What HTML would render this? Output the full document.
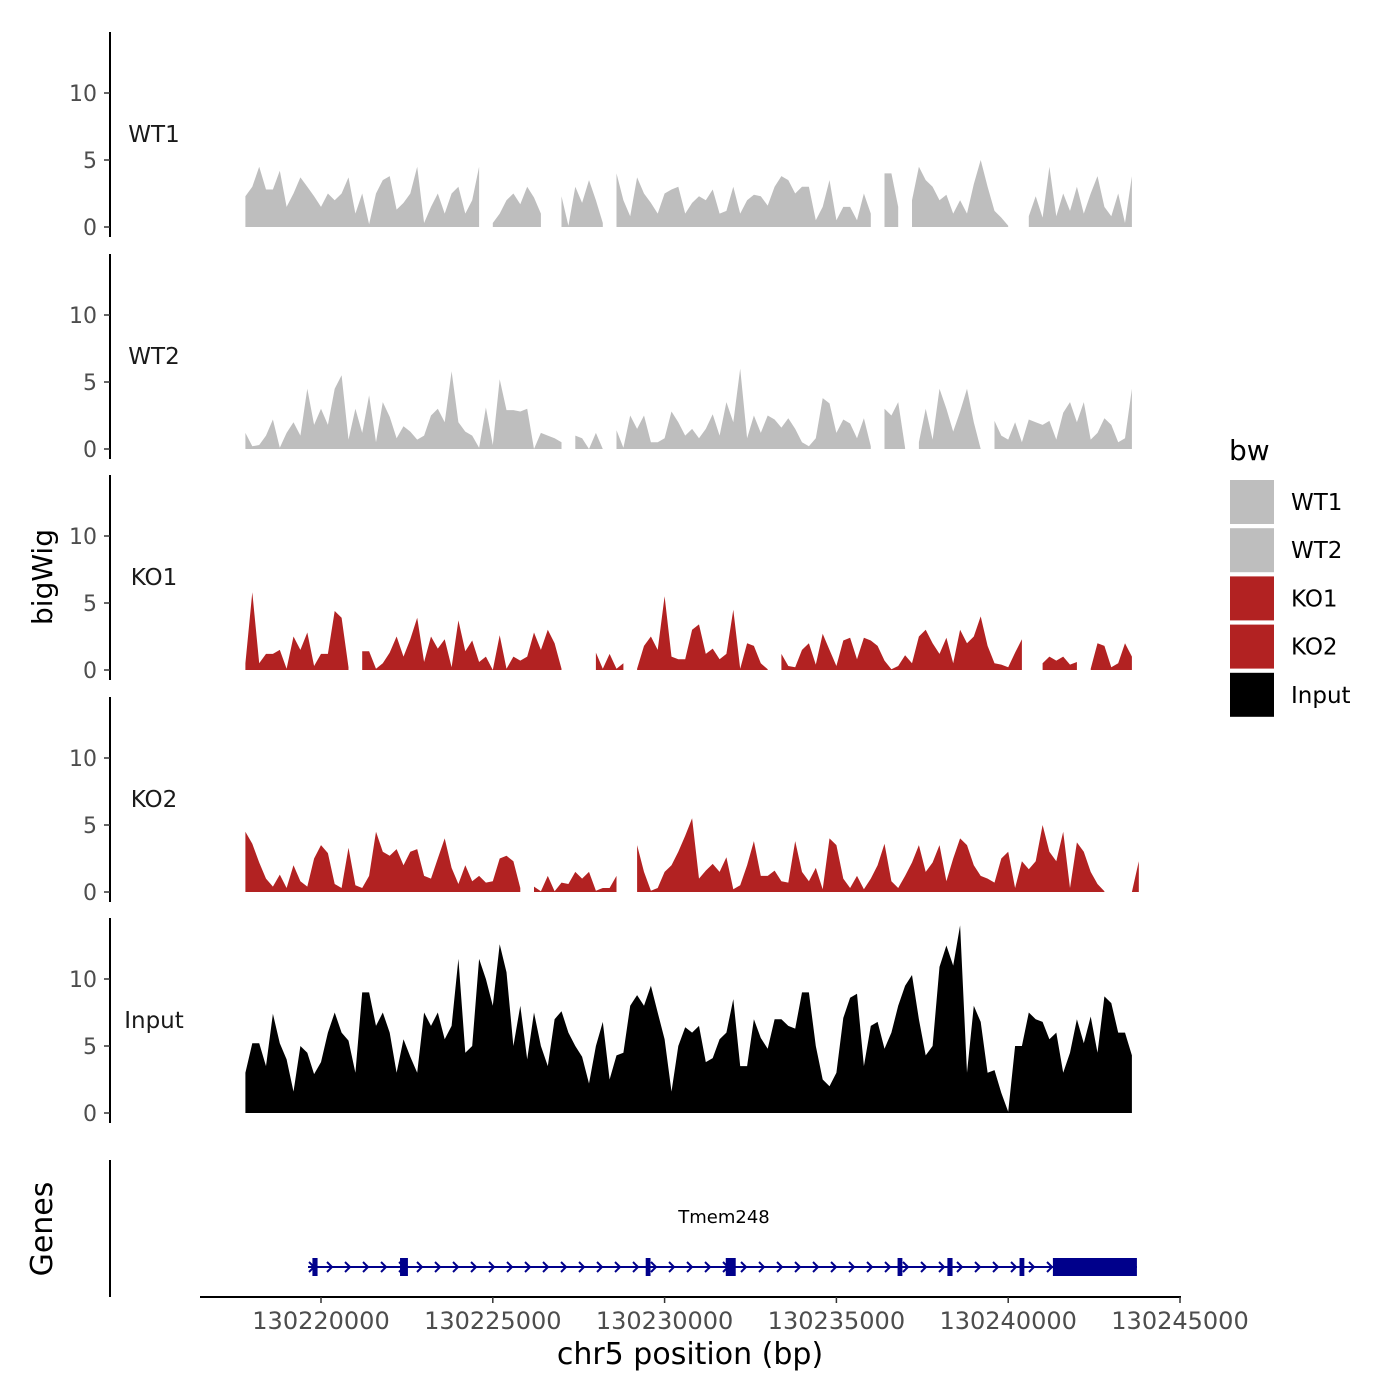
<!DOCTYPE html>
<html><head><meta charset="utf-8"><style>
html,body{margin:0;padding:0;background:#fff;}
svg{display:block;font-family:"DejaVu Sans","Liberation Sans",sans-serif;}
</style></head><body>
<svg id="chart" width="1400" height="1400" viewBox="0 0 1400 1400" xmlns="http://www.w3.org/2000/svg">
<g id="tracks"></g>
<g id="genes"></g>
<g id="xaxis"></g>
<text x="0" y="0" transform="translate(52,577) rotate(-90)" text-anchor="middle" font-size="28" fill="#000">bigWig</text>
<text x="0" y="0" transform="translate(52,1229) rotate(-90)" text-anchor="middle" font-size="30" fill="#000">Genes</text>
<text x="690" y="1364" text-anchor="middle" font-size="30" fill="#000">chr5 position (bp)</text>
<g id="legend"></g>
</svg>
<script>
const NS="http://www.w3.org/2000/svg";
const binStart=130217800;
const binWidth=200;
const trackNames=["WT1","WT2","KO1","KO2","Input"];
const trackColors=["#bebebe","#bebebe","#b22222","#b22222","#000000"];
const wt1=[2.3,3.0,4.5,2.8,2.8,4.2,1.5,2.5,3.7,3.0,2.3,1.5,2.5,2.0,2.5,3.7,1.0,2.5,0.2,2.5,3.5,3.8,1.3,1.8,2.5,4.5,0.3,1.5,2.5,1.0,2.5,3.0,1.0,2.0,4.5,null,0.3,1.0,2.0,2.5,1.7,3.0,2.2,1.0,null,null,2.3,0.1,3.0,1.8,3.5,2.0,0.3,null,4.0,2.0,0.8,3.7,2.5,1.8,1.0,2.5,2.8,3.0,1.0,1.8,2.3,2.0,2.8,1.0,1.2,3.0,1.0,2.0,2.4,2.3,1.6,3.0,3.8,3.5,2.5,3.0,3.0,0.5,1.5,3.5,0.5,1.5,1.5,0.5,2.5,1.0,null,4.0,4.0,1.5,null,2.0,4.5,3.5,3.0,2.0,2.4,1.0,2.0,1.0,3.2,5.0,3.0,1.2,0.7,0.1,null,null,0.8,2.3,0.7,4.5,0.8,2.5,1.2,3.0,1.0,2.5,3.8,1.5,0.8,2.5,0.3,3.8,null];
const wt2=[1.2,0.2,0.3,1.0,2.2,0.1,1.2,2.0,1.0,4.5,1.8,3.0,1.8,4.5,5.5,0.7,3.0,1.2,4.0,0.5,3.5,2.4,0.8,1.7,1.3,0.7,1.0,2.5,3.0,2.0,5.8,2.0,1.3,1.0,0.1,3.1,0.3,5.2,2.9,2.9,2.8,3.0,0.0,1.2,1.0,0.8,0.5,null,1.0,0.8,0.0,1.2,0.0,null,1.4,0.1,2.5,1.5,2.5,0.5,0.5,0.8,2.8,2.0,1.0,1.5,0.8,1.5,2.6,1.0,3.5,2.0,6.0,0.8,2.5,1.2,2.5,2.2,1.6,2.3,1.5,0.5,0.2,0.8,3.8,3.4,1.2,2.2,1.9,0.8,2.3,0.2,null,3.0,2.5,3.5,0.1,null,0.5,3.0,0.7,4.5,3.0,1.3,2.8,4.5,2.0,0.0,null,2.1,1.0,0.7,2.0,0.5,2.2,2.0,1.8,2.1,0.7,2.7,3.5,2.0,3.5,0.7,1.2,2.3,1.8,0.5,0.8,4.5,null];
const ko1=[0.5,5.8,0.5,1.2,1.2,1.5,0.1,2.5,1.5,2.8,0.3,1.2,1.2,4.4,3.9,0.2,null,1.4,1.4,0.1,0.5,1.3,2.5,1.0,2.3,3.9,0.6,2.5,1.6,2.3,0.2,3.7,1.4,2.2,0.6,1.0,0.0,2.6,0.1,1.0,0.7,1.0,2.8,1.5,3.0,2.0,0.1,null,1.2,null,null,1.3,0.1,1.2,0.1,0.5,null,0.1,1.8,2.5,1.5,5.5,1.0,0.8,0.8,3.0,3.4,1.2,1.6,0.8,1.2,4.5,0.1,2.0,1.8,0.5,0.05,null,1.2,0.3,0.2,1.5,2.0,0.4,2.7,1.5,0.3,2.2,2.4,0.8,2.4,2.2,1.8,0.7,0.05,0.3,1.1,0.5,2.5,3.0,2.0,1.2,2.4,0.5,3.0,2.0,2.5,4.0,1.8,0.5,0.4,0.2,1.3,2.3,null,null,0.5,1.0,0.7,1.0,0.4,0.6,null,0.1,2.0,1.8,0.2,0.5,2.0,1.0,null];
const ko2=[4.5,3.6,2.2,1.0,0.4,1.3,0.3,2.0,0.8,0.4,2.5,3.5,2.9,0.6,0.3,3.3,0.5,0.3,1.2,4.5,3.0,2.7,3.2,2.0,3.0,3.2,1.2,1.0,2.5,4.0,1.8,0.6,2.0,0.8,1.2,0.7,0.8,2.5,2.7,2.3,0.3,null,0.4,0.05,1.2,0.05,0.7,0.6,1.5,1.0,1.5,0.1,0.3,0.3,1.2,null,null,3.5,1.5,0.1,0.3,1.5,2.0,3.0,4.2,5.5,1.0,1.6,2.1,1.5,2.6,0.2,0.5,2.0,3.8,1.2,1.2,1.6,0.8,0.7,3.8,1.5,0.8,1.8,0.2,4.0,3.5,1.0,0.3,1.2,0.2,1.0,2.0,3.6,0.8,0.3,1.2,2.2,3.5,1.5,2.2,3.5,0.8,2.5,4.0,3.5,2.0,1.2,1.0,0.7,2.5,3.0,0.3,2.3,1.7,2.3,5.0,3.0,2.3,4.5,0.3,3.7,3.0,1.5,0.6,0.05,null,null,null,0.0,2.3,null];
const input=[3.0,5.2,5.2,3.5,7.4,5.2,4.0,1.6,5.0,4.5,2.9,3.8,6.0,7.5,6.0,5.4,3.0,9.0,9.0,6.5,7.5,6.0,3.0,5.5,4.2,3.0,7.5,6.5,7.5,5.5,6.5,11.5,4.5,5.0,11.5,10.0,8.0,12.6,10.5,5.0,8.0,4.0,7.5,5.0,3.5,7.0,7.6,6.0,5.0,4.2,2.2,5.0,6.8,2.5,4.3,4.5,8.0,8.8,8.0,9.5,7.5,5.5,1.6,5.0,6.4,6.0,6.5,3.8,4.1,5.5,6.0,8.5,3.5,3.5,7.0,5.6,4.8,7.0,7.0,6.5,6.3,9.0,9.0,5.0,2.5,2.0,3.0,7.1,8.6,8.9,3.5,6.5,6.8,4.8,6.0,8.0,9.5,10.3,7.0,4.3,5.0,10.9,12.5,11.0,14.0,3.0,8.0,6.8,3.0,3.2,1.5,0.1,5.0,5.0,7.5,7.0,6.8,5.5,6.0,3.0,4.5,7.0,5.2,7.2,4.5,8.7,8.2,6.0,6.0,4.3,null];
const seriesValues=[wt1,wt2,ko1,ko2,input];
const yTicks=[0,5,10];
const xTicks=[130220000,130225000,130230000,130235000,130240000,130245000];
const geneName="Tmem248";
const geneStart=130219622, geneEnd=130243746;
const exonStarts=[130219750,130222300,130229450,130231780,130236780,130238230,130240330,130241301];
const exonEnds=[130219900,130222530,130229590,130232070,130236920,130238380,130240470,130243746];

function xScale(bp){return 321+(bp-130220000)/5000*171.8;}
const zeroY=[227,449,670,892,1113];
function yScale(panel,v){return zeroY[panel]-v*13.4;}
function mk(tag,attrs,parent){const e=document.createElementNS(NS,tag);for(const k in attrs)e.setAttribute(k,attrs[k]);parent.appendChild(e);return e;}

const tracks=document.getElementById('tracks');
seriesValues.forEach((vals,p)=>{
  const g=mk('g',{},tracks);
  
  
  let seg=[];
  const flush=()=>{
    if(seg.length){
      let d='M'+xScale(binStart+seg[0][0]*binWidth).toFixed(1)+','+yScale(p,0);
      seg.forEach(([i,v])=>{d+=' L'+xScale(binStart+i*binWidth).toFixed(1)+','+yScale(p,v).toFixed(1);});
      d+=' L'+xScale(binStart+seg[seg.length-1][0]*binWidth).toFixed(1)+','+yScale(p,0)+' Z';
      const a=mk('path',{d:d,fill:trackColors[p]},g);
      
      
    }
    seg=[];
  };
  vals.forEach((v,i)=>{if(v===null)flush();else seg.push([i,v]);});
  flush();
  const top=yScale(p,14.55), bot=yScale(p,0)+10;
  const ax=mk('line',{x1:110,x2:110,y1:top,y2:bot,stroke:'#000','stroke-width':2},g);
  
  
  yTicks.forEach(t=>{
    const y=yScale(p,t);
    const tk=mk('line',{x1:104,x2:110,y1:y,y2:y,stroke:'#333','stroke-width':1.5},g);
    
    
    const tl=mk('text',{x:97,y:y+8,'text-anchor':'end','font-size':22,fill:'#4d4d4d'},g);
    
    
    tl.textContent=t;
  });
  const lb=mk('text',{x:154,y:yScale(p,0)-85,'text-anchor':'middle','font-size':23,fill:'#1a1a1a'},g);
  
  
  lb.textContent=trackNames[p];
});

const gg=document.getElementById('genes');
const gax=mk('line',{x1:110,x2:110,y1:1160,y2:1297,stroke:'#000','stroke-width':2},gg);


const gl=mk('line',{x1:xScale(geneStart),x2:xScale(geneEnd),y1:1267,y2:1267,stroke:'#00008b','stroke-width':2},gg);


for(let x=xScale(geneStart)+4;x<xScale(geneEnd)-4;x+=18){
  const ar=mk('path',{d:`M${x-3},${1262} L${x+2},1267 L${x-3},1272`,fill:'none',stroke:'#00008b','stroke-width':2},gg);
  
  
}
exonStarts.forEach((s,i)=>{
  const x1=xScale(s),x2=xScale(exonEnds[i]);
  const r=mk('rect',{x:x1,y:1258,width:Math.max(x2-x1,4),height:18,fill:'#00008b'},gg);
  
  
});
const gn=mk('text',{x:724,y:1223,'text-anchor':'middle','font-size':18,fill:'#000'},gg);


gn.textContent=geneName;

const xa=document.getElementById('xaxis');
const xl=mk('line',{x1:200,x2:1181,y1:1297,y2:1297,stroke:'#000','stroke-width':2},xa);


xTicks.forEach(t=>{
  const x=xScale(t);
  const tk=mk('line',{x1:x,x2:x,y1:1297,y2:1303,stroke:'#333','stroke-width':1.5},xa);
  
  
  const tl=mk('text',{x:x,y:1329,'text-anchor':'middle','font-size':24,fill:'#4d4d4d'},xa);
  
  
  tl.textContent=t;
});

const lg=document.getElementById('legend');
const lt=mk('text',{x:1229,y:460,'font-size':28,fill:'#000'},lg);


lt.textContent='bw';
trackNames.forEach((n,i)=>{
  const y=480+i*48.2;
  const r=mk('rect',{x:1230,y:y,width:44,height:44,fill:trackColors[i]},lg);
  
  
  const t=mk('text',{x:1291,y:y+30,'font-size':23,fill:'#000'},lg);
  
  
  t.textContent=n;
});
</script>
</body></html>
